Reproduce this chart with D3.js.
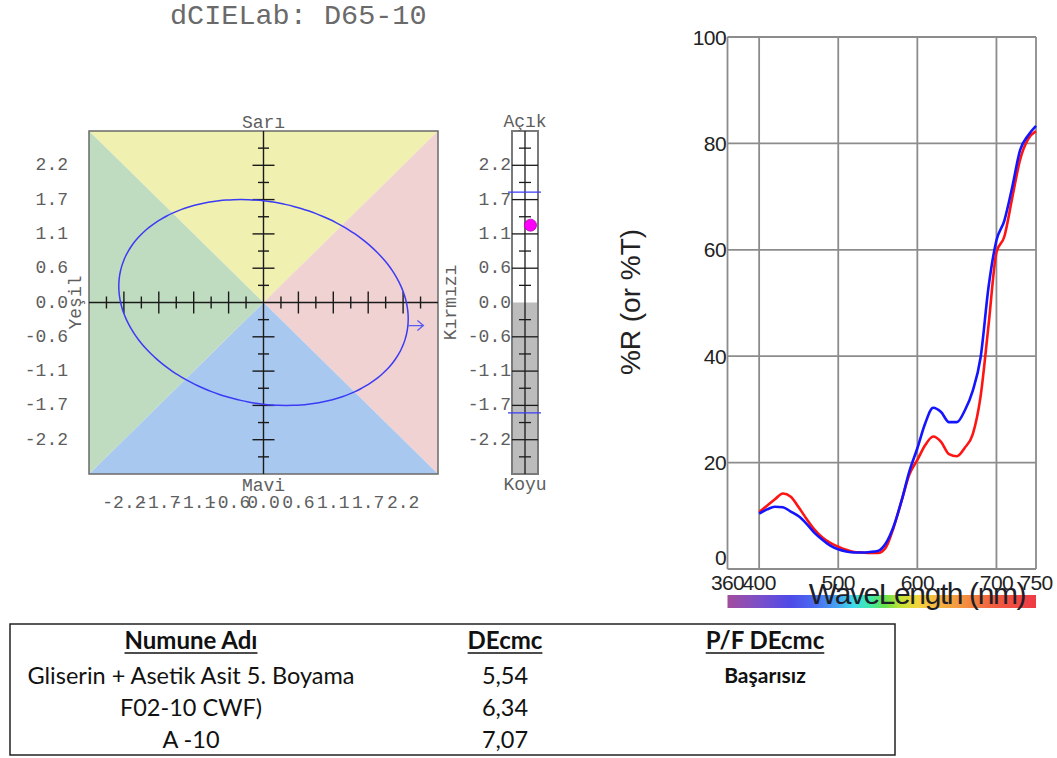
<!DOCTYPE html>
<html>
<head>
<meta charset="utf-8">
<script src="https://cdn.jsdelivr.net/npm/d3@7"></script>
<style>
  body { margin: 0; background: #fff; }
  svg { display: block; }
</style>
</head>
<body>
<svg id="chart" width="1057" height="758"></svg>
<script>
// ---- a*b* / L* colour difference data ----
const abMajorTicks = [-2.2, -1.65, -1.1, -0.55, 0.55, 1.1, 1.65, 2.2];
const abMinorTicks = [-2.475, -1.925, -1.375, -0.825, -0.275, 0.275, 0.825, 1.375, 1.925, 2.475];
const abTickValues = [-2.2, -1.65, -1.1, -0.55, 0, 0.55, 1.1, 1.65, 2.2];
const abTickLabels = ["-2.2", "-1.7", "-1.1", "-0.6", "0.0", "0.6", "1.1", "1.7", "2.2"];
const ellipseSemiAxes = [2.31, 1.61];      // tolerance ellipse a, b
const ellipseRotation = [-12.85];          // degrees
const offscaleArrow = [[2.28, -0.37], [2.52, -0.37]];
const lightnessTolerance = [1.77, -1.77];
const sampleDeltaL = [1.24];

// ---- reflectance spectra ----
const wavelengths = [400,410,420,430,440,450,460,470,480,490,500,510,520,530,540,550,560,570,580,590,600,610,620,630,640,650,660,670,680,690,700,710,720,730,740,750];
const reflectanceRed = [10.7,11.9,13.1,14.2,13.6,11.6,9.4,7.4,5.9,4.9,4.2,3.6,3.2,3.1,3.0,3.0,4.0,7.8,12.8,17.8,20.5,23.3,24.9,23.9,21.6,21.2,22.8,25.3,32.5,45.8,59.5,62.5,69.8,77.0,80.8,82.3];
const reflectanceBlue = [10.4,11.2,11.7,11.6,10.8,9.9,8.5,6.8,5.5,4.4,3.7,3.3,3.1,3.1,3.2,3.4,4.8,8.0,12.8,18.4,22.7,27.4,30.3,29.5,27.6,27.6,29.8,33.5,39.8,53.0,61.8,65.5,71.8,78.8,81.5,83.3];
const waveTicks = [360, 400, 500, 600, 700, 750];
const reflTicks = [0, 20, 40, 60, 80, 100];

// ---- result table ----
const tableHeaders = ["Numune Adı", "DEcmc", "P/F DEcmc"];
const sampleNames = ["Gliserin + Asetik Asit 5. Boyama", "F02-10 CWF)", "A -10"];
const deCmcValues = ["5,54", "6,34", "7,07"];
const passFail = ["Başarısız", "", ""];

// visible spectrum colours for the wavelength strip
const spectrumStops = [[360,"#a24d9c"],[400,"#7b4fc8"],[440,"#4e4ae8"],[470,"#4a6cf0"],[500,"#45a6f2"],[520,"#3fdbe8"],[540,"#3ee9a8"],[560,"#6de04a"],[580,"#c6e234"],[600,"#f2d43e"],[630,"#f5b040"],[660,"#f29040"],[700,"#f05a40"],[750,"#ee3a44"]];

const svg = d3.select("#chart");
const MONO = "'Liberation Mono', 'Courier New', monospace";
const SANS = "'Liberation Sans', Arial, sans-serif";
const labCol = "#5e5e5e";
const LABFS = 18;

// ================= a*b* plot =================
const xAB = d3.scaleLinear().domain([-2.75, 2.75]).range([89, 438]);
const yAB = d3.scaleLinear().domain([-2.75, 2.75]).range([474, 131]);
const cx = xAB(0), cy = yAB(0);
const L = xAB(-2.75), R = xAB(2.75), T = yAB(2.75), B = yAB(-2.75);

svg.append("text").attr("x", 170).attr("y", 24)
  .attr("font-family", MONO).attr("font-size", 28.5).attr("fill", "#6a6a6a")
  .text("dCIELab: D65-10");

const quadrants = [
  { pts: [[L,T],[R,T],[cx,cy]], fill: "#f0f0b0" },
  { pts: [[R,T],[R,B],[cx,cy]], fill: "#f0d2d2" },
  { pts: [[R,B],[L,B],[cx,cy]], fill: "#a8c8f0" },
  { pts: [[L,B],[L,T],[cx,cy]], fill: "#c0dcc0" }
];
svg.append("g").selectAll("path").data(quadrants).join("path")
  .attr("d", d => "M" + d.pts.map(p => p.join(",")).join("L") + "Z")
  .attr("fill", d => d.fill);
svg.append("rect").attr("x", L).attr("y", T).attr("width", R - L).attr("height", B - T)
  .attr("fill", "none").attr("stroke", "#6a6a6a").attr("stroke-width", 1.5);

const axisG = svg.append("g").attr("stroke", "#1a1a1a").attr("stroke-width", 1.4);
axisG.append("line").attr("x1", L).attr("x2", R).attr("y1", cy).attr("y2", cy);
axisG.append("line").attr("x1", cx).attr("x2", cx).attr("y1", T).attr("y2", B);
axisG.selectAll(".hmaj").data(abMajorTicks).join("line").attr("class", "hmaj")
  .attr("x1", d => xAB(d)).attr("x2", d => xAB(d)).attr("y1", cy - 11).attr("y2", cy + 11);
axisG.selectAll(".hmin").data(abMinorTicks).join("line").attr("class", "hmin")
  .attr("x1", d => xAB(d)).attr("x2", d => xAB(d)).attr("y1", cy - 6).attr("y2", cy + 6);
axisG.selectAll(".vmaj").data(abMajorTicks).join("line").attr("class", "vmaj")
  .attr("y1", d => yAB(d)).attr("y2", d => yAB(d)).attr("x1", cx - 11).attr("x2", cx + 11);
axisG.selectAll(".vmin").data(abMinorTicks).join("line").attr("class", "vmin")
  .attr("y1", d => yAB(d)).attr("y2", d => yAB(d)).attr("x1", cx - 5.5).attr("x2", cx + 5.5);

// tolerance ellipse
const rot = ellipseRotation[0] * Math.PI / 180;
const ellPts = d3.range(0, 360, 3).map(t => {
  const r = t * Math.PI / 180;
  const ex = ellipseSemiAxes[0] * Math.cos(r), ey = ellipseSemiAxes[1] * Math.sin(r);
  return [xAB(ex * Math.cos(rot) - ey * Math.sin(rot)), yAB(ex * Math.sin(rot) + ey * Math.cos(rot))];
});
svg.append("path").attr("d", d3.line().curve(d3.curveCardinalClosed)(ellPts))
  .attr("fill", "none").attr("stroke", "#3b3bf5").attr("stroke-width", 1.5);

// off-scale direction arrow
const a0 = [xAB(offscaleArrow[0][0]), yAB(offscaleArrow[0][1])];
const a1 = [xAB(offscaleArrow[1][0]), yAB(offscaleArrow[1][1])];
svg.append("path")
  .attr("d", `M${a0[0]},${a0[1]}L${a1[0]},${a1[1]}M${a1[0] - 6},${a1[1] - 5}L${a1[0]},${a1[1]}L${a1[0] - 6},${a1[1] + 5}`)
  .attr("fill", "none").attr("stroke", "#5a5af5").attr("stroke-width", 1.3);

// axis labels
const labText = (x, y, txt, anchor) => svg.append("text").attr("x", x).attr("y", y)
  .attr("font-family", MONO).attr("font-size", LABFS).attr("fill", labCol)
  .attr("text-anchor", anchor || "middle").text(txt);
labText(cx, 128, "Sarı");
labText(cx, 491, "Mavi");
svg.append("text").attr("transform", `translate(81,${cy}) rotate(-90)`)
  .attr("font-family", MONO).attr("font-size", LABFS).attr("fill", labCol)
  .attr("text-anchor", "middle").text("Yeşil");
svg.append("text").attr("transform", `translate(456,${cy}) rotate(-90)`)
  .attr("font-family", MONO).attr("font-size", LABFS).attr("fill", labCol)
  .attr("text-anchor", "middle").text("Kırmızı");

svg.append("g").selectAll("text").data(abTickValues).join("text")
  .attr("x", d => xAB(d)).attr("y", 508)
  .attr("font-family", MONO).attr("font-size", LABFS).attr("fill", labCol)
  .attr("text-anchor", "middle").text((d, i) => abTickLabels[i]);
svg.append("g").selectAll("text").data(abTickValues).join("text")
  .attr("x", 68).attr("y", d => yAB(d) + 5)
  .attr("font-family", MONO).attr("font-size", LABFS).attr("fill", labCol)
  .attr("text-anchor", "end").text((d, i) => abTickLabels[i]);

// ================= lightness bar =================
const sL = 512, sR = 538, sC = 525;
svg.append("rect").attr("x", sL).attr("y", T).attr("width", sR - sL).attr("height", cy - T).attr("fill", "#ffffff");
svg.append("rect").attr("x", sL).attr("y", cy).attr("width", sR - sL).attr("height", B - cy).attr("fill", "#bcbcbc");
svg.append("rect").attr("x", sL).attr("y", T).attr("width", sR - sL).attr("height", B - T)
  .attr("fill", "none").attr("stroke", "#7a7a7a").attr("stroke-width", 2);
const sG = svg.append("g").attr("stroke", "#1a1a1a").attr("stroke-width", 1.3);
sG.append("line").attr("x1", sC).attr("x2", sC).attr("y1", T).attr("y2", B);
sG.selectAll(".smaj").data(abMajorTicks).join("line").attr("class", "smaj")
  .attr("x1", sL).attr("x2", sR).attr("y1", d => yAB(d)).attr("y2", d => yAB(d));
sG.selectAll(".smin").data(abMinorTicks).join("line").attr("class", "smin")
  .attr("x1", sC - 6).attr("x2", sC + 6).attr("y1", d => yAB(d)).attr("y2", d => yAB(d));
svg.append("g").selectAll("line").data(lightnessTolerance).join("line")
  .attr("x1", sL - 4).attr("x2", sR + 3).attr("y1", d => yAB(d)).attr("y2", d => yAB(d))
  .attr("stroke", "#3b3bf5").attr("stroke-width", 1.4);
svg.append("g").selectAll("circle").data(sampleDeltaL).join("circle")
  .attr("cx", 530.5).attr("cy", d => yAB(d)).attr("r", 6)
  .attr("fill", "#ff00ff").attr("stroke", "#b000b0").attr("stroke-width", 0.8);
labText(sC, 127, "Açık");
labText(sC, 490, "Koyu");
svg.append("g").selectAll("text").data(abTickValues).join("text")
  .attr("x", 511).attr("y", d => yAB(d) + 5)
  .attr("font-family", MONO).attr("font-size", LABFS).attr("fill", labCol)
  .attr("text-anchor", "end").text((d, i) => abTickLabels[i]);

// ================= reflectance chart =================
const xW = d3.scaleLinear().domain([360, 750]).range([727.5, 1036]);
const yR = d3.scaleLinear().domain([0, 100]).range([569, 37]);
const grid = svg.append("g").attr("stroke", "#8c8c8c").attr("stroke-width", 1.8);
grid.selectAll(".gx").data(waveTicks).join("line").attr("class", "gx")
  .attr("x1", d => xW(d)).attr("x2", d => xW(d)).attr("y1", yR(0)).attr("y2", yR(100));
grid.selectAll(".gy").data(reflTicks).join("line").attr("class", "gy")
  .attr("y1", d => yR(d)).attr("y2", d => yR(d)).attr("x1", xW(360)).attr("x2", xW(750));

svg.append("g").selectAll("text").data(reflTicks).join("text")
  .attr("x", 726).attr("y", d => yR(d) + 7.5 - (d === 0 ? 12 : 0))
  .attr("font-family", SANS).attr("font-size", 21).attr("fill", "#222")
  .attr("text-anchor", "end").attr("letter-spacing", -0.6).text(d => d);
svg.append("g").selectAll("text").data(waveTicks).join("text")
  .attr("x", d => xW(d)).attr("y", 590)
  .attr("font-family", SANS).attr("font-size", 21).attr("fill", "#222")
  .attr("text-anchor", "middle").attr("letter-spacing", -0.6).text(d => d);

const lineGen = d3.line().x((d, i) => xW(wavelengths[i])).y(d => yR(d)).curve(d3.curveMonotoneX);
svg.append("path").attr("d", lineGen(reflectanceRed))
  .attr("fill", "none").attr("stroke", "#ff1414").attr("stroke-width", 2.6);
svg.append("path").attr("d", lineGen(reflectanceBlue))
  .attr("fill", "none").attr("stroke", "#1414ff").attr("stroke-width", 2.6);

// wavelength colour strip
const grad = svg.append("defs").append("linearGradient").attr("id", "spec")
  .attr("x1", "0%").attr("x2", "100%").attr("y1", "0%").attr("y2", "0%");
grad.selectAll("stop").data(spectrumStops).join("stop")
  .attr("offset", d => ((d[0] - 360) / 390 * 100) + "%").attr("stop-color", d => d[1]);
svg.append("rect").attr("x", xW(360)).attr("y", 595).attr("width", xW(750) - xW(360)).attr("height", 13)
  .attr("fill", "url(#spec)");
svg.append("text").attr("x", 917).attr("y", 603.5)
  .attr("font-family", SANS).attr("font-size", 30).attr("fill", "#1e1e28")
  .attr("text-anchor", "middle").attr("letter-spacing", -1.4).text("WaveLength (nm)");
svg.append("text").attr("transform", "translate(640,302) rotate(-90)")
  .attr("font-family", SANS).attr("font-size", 28).attr("fill", "#222")
  .attr("text-anchor", "middle").text("%R (or %T)");

// ================= result table =================
svg.append("rect").attr("x", 10).attr("y", 624).attr("width", 885).attr("height", 131)
  .attr("fill", "none").attr("stroke", "#222").attr("stroke-width", 1.5);
const colX = [191, 505, 765];
const TFONT = "Lato, 'Open Sans', sans-serif";
const hdr = svg.append("g").selectAll("text").data(tableHeaders).join("text")
  .attr("x", (d, i) => colX[i]).attr("y", 649)
  .attr("font-family", TFONT).attr("font-size", 24).attr("font-weight", 700).attr("fill", "#111")
  .attr("text-anchor", "middle").text(d => d);
hdr.each(function(d, i) {
  const w = this.getComputedTextLength();
  svg.append("line").attr("x1", colX[i] - w / 2).attr("x2", colX[i] + w / 2)
    .attr("y1", 653).attr("y2", 653).attr("stroke", "#111").attr("stroke-width", 1.6);
});
const rowY = [684, 716, 748];
svg.append("g").selectAll("text").data(sampleNames).join("text")
  .attr("x", colX[0]).attr("y", (d, i) => rowY[i])
  .attr("font-family", TFONT).attr("font-size", 23.5).attr("fill", "#111")
  .attr("text-anchor", "middle").text(d => d);
svg.append("g").selectAll("text").data(deCmcValues).join("text")
  .attr("x", colX[1]).attr("y", (d, i) => rowY[i])
  .attr("font-family", TFONT).attr("font-size", 23.5).attr("fill", "#111")
  .attr("text-anchor", "middle").text(d => d);
svg.append("g").selectAll("text").data(passFail).join("text")
  .attr("x", colX[2]).attr("y", (d, i) => rowY[i] - 1)
  .attr("font-family", TFONT).attr("font-size", 21).attr("font-weight", 700).attr("fill", "#111")
  .attr("text-anchor", "middle").text(d => d);
</script>
</body>
</html>
